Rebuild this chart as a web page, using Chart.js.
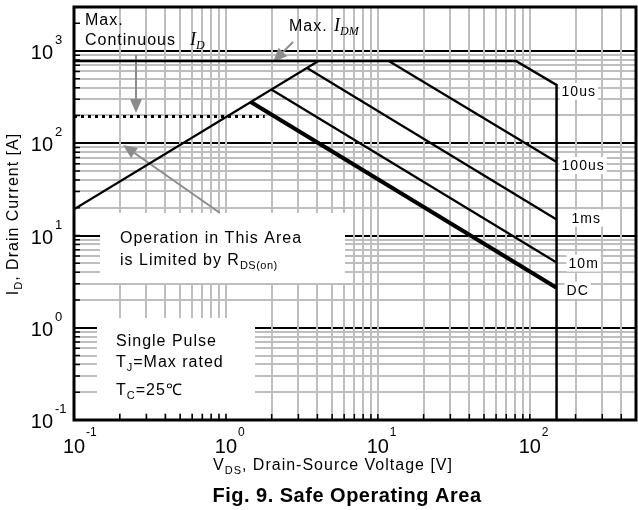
<!DOCTYPE html>
<html>
<head>
<meta charset="utf-8">
<script src="https://cdn.jsdelivr.net/npm/chart.js@4.4.1/dist/chart.umd.min.js"></script>
<style>
  html, body { margin: 0; padding: 0; background: #fff; }
  #soa { display: block; }
</style>
</head>
<body>
<canvas id="soa" width="638" height="510"></canvas>
<script>
// Fig. 9 - safe operating area, log-log

const xDecades = [-1, 0, 1, 2];      // labelled V_DS ticks, 10^n
const yDecades = [-1, 0, 1, 2, 3];   // labelled I_D ticks, 10^n
const xMin = 0.1, xMax = 500;
const yMin = 0.1, yMax = 3000;

// limit lines: V_DS [V] / I_D [A]
const rdsV = [0.1, 4.06];            const rdsI = [19.2, 780];
const us10V = [0.1, 81, 150, 150];   const us10I = [780, 780, 428, 0.1];
const us100V = [11.8, 150];          const us100I = [780, 62.6];
const ms1V = [3.42, 150];            const ms1I = [655, 14.9];
const ms10V = [1.99, 150];           const ms10I = [383, 5.09];
const dcV = [1.458, 150];            const dcI = [280, 2.72];
const contV = [0.1, 1.8];            const contI = [195, 195];

const curveNames = ['10us', '100us', '1ms', '10m', 'DC'];
const curveEndI = [428, 62.6, 14.9, 5.09, 2.72];

const SANS = '"Liberation Sans", Arial, sans-serif';
const SERIF = '"Liberation Serif", "Times New Roman", serif';
const GRID = '#bebebe';
const ARROW = '#8c8c8c';

function pts(xs, ys) {
  return xs.map((x, i) => ({ x: x, y: ys[i] }));
}

function gridValues(min, max) {
  const out = [];
  for (let e = Math.floor(Math.log10(min)); e <= Math.ceil(Math.log10(max)); e++) {
    for (let m = 1; m <= 9; m++) {
      const v = +(m * Math.pow(10, e)).toPrecision(6);
      if (v >= min && v <= max) out.push(v);
    }
  }
  return out;
}

function isDecade(v) {
  const l = Math.log10(v);
  return Math.abs(l - Math.round(l)) < 1e-6;
}

function fontOf(p) {
  return (p.italic ? 'italic ' : '') + (p.bold ? 'bold ' : '') + p.size + 'px ' + (p.serif ? SERIF : SANS);
}

// draws a run of text parts (for sub/superscripts) on one baseline
function rich(ctx, x, y, parts, align) {
  const widths = parts.map(p => {
    ctx.font = fontOf(p);
    ctx.letterSpacing = p.ls || '0px';
    return ctx.measureText(p.t).width;
  });
  const total = widths.reduce((a, b) => a + b, 0);
  let cx = align === 'center' ? x - total / 2 : align === 'right' ? x - total : x;
  ctx.textAlign = 'left';
  ctx.textBaseline = 'alphabetic';
  parts.forEach((p, i) => {
    ctx.font = fontOf(p);
    ctx.letterSpacing = p.ls || '0px';
    ctx.fillStyle = p.color || '#000';
    ctx.fillText(p.t, cx, y + (p.dy || 0));
    cx += widths[i];
  });
  ctx.letterSpacing = '0px';
}

function txt(t, size, extra) {
  return Object.assign({ t: t, size: size, ls: '1px' }, extra || {});
}

function arrow(ctx, x1, y1, x2, y2) {
  const a = Math.atan2(y2 - y1, x2 - x1);
  const L = 14, W = 6;
  const bx = x2 - L * Math.cos(a), by = y2 - L * Math.sin(a);
  ctx.save();
  ctx.strokeStyle = ARROW;
  ctx.fillStyle = ARROW;
  ctx.lineWidth = 2;
  ctx.beginPath();
  ctx.moveTo(x1, y1);
  ctx.lineTo(bx, by);
  ctx.stroke();
  ctx.beginPath();
  ctx.moveTo(x2, y2);
  ctx.lineTo(bx + W * Math.sin(a), by - W * Math.cos(a));
  ctx.lineTo(bx - W * Math.sin(a), by + W * Math.cos(a));
  ctx.closePath();
  ctx.fill();
  ctx.restore();
}

function whiteBox(ctx, x1, y1, x2, y2) {
  ctx.fillStyle = '#fff';
  ctx.fillRect(x1, y1, x2 - x1, y2 - y1);
}

const notes = {
  id: 'notes',
  beforeDatasetsDraw(chart) {
    const ctx = chart.ctx;
    const xs = chart.scales.x, ys = chart.scales.y;
    ctx.save();

    whiteBox(ctx, 100, 213, 345, 283);
    whiteBox(ctx, 97, 318, 255, 413);

    rich(ctx, 85, 25, [txt('Max.', 16)]);
    rich(ctx, 85, 45, [txt('Continuous', 16)]);
    rich(ctx, 190, 45, [
      { t: 'I', size: 18, italic: true, serif: true },
      { t: 'D', size: 12, italic: true, serif: true, dy: 4 }
    ]);
    rich(ctx, 289, 31, [txt('Max.', 16)]);
    rich(ctx, 334, 31, [
      { t: 'I', size: 18, italic: true, serif: true },
      { t: 'DM', size: 12, italic: true, serif: true, dy: 4 }
    ]);

    rich(ctx, 120, 243, [txt('Operation in This Area', 16)]);
    rich(ctx, 120, 265, [txt('is Limited by R', 16), txt('DS(on)', 11, { dy: 4, ls: '0.5px' })]);

    rich(ctx, 116, 346, [txt('Single Pulse', 16)]);
    rich(ctx, 116, 367, [txt('T', 16), txt('J', 11, { dy: 4 }), txt('=Max rated', 16)]);
    rich(ctx, 116, 395, [txt('T', 16), txt('C', 11, { dy: 4 }), txt('=25\u2103', 16)]);

    arrow(ctx, 136, 55, 136, 113);
    arrow(ctx, 293, 42, 273, 62);
    arrow(ctx, 220, 213, 123, 145);

    // curve labels right of the V_DSS line
    const lx = xs.getPixelForValue(150);
    const offs = [[5, 11], [5, 8], [15, 3], [12, 5], [10, 7]];
    curveNames.forEach((name, i) => {
      const y = ys.getPixelForValue(curveEndI[i]) + offs[i][1];
      const x = lx + offs[i][0];
      ctx.font = '14px ' + SANS;
      ctx.letterSpacing = '1px';
      const w = ctx.measureText(name).width;
      ctx.letterSpacing = '0px';
      whiteBox(ctx, x - 2, y - 13, x + w + 2, y + 4);
      rich(ctx, x, y, [txt(name, 14)]);
    });
    ctx.restore();
  },
  afterDatasetsDraw(chart) {
    const ctx = chart.ctx;
    const a = chart.chartArea;
    const xs = chart.scales.x, ys = chart.scales.y;
    ctx.save();

    // small inside tick marks
    ctx.strokeStyle = '#000';
    ctx.lineWidth = 1.5;
    ctx.beginPath();
    ys.ticks.forEach(t => {
      const y = ys.getPixelForValue(t.value);
      ctx.moveTo(a.left, y);
      ctx.lineTo(a.left + 6, y);
    });
    xs.ticks.forEach(t => {
      const x = xs.getPixelForValue(t.value);
      ctx.moveTo(x, a.bottom);
      ctx.lineTo(x, a.bottom - 6);
    });
    ctx.stroke();

    // frame
    ctx.lineWidth = 3;
    ctx.strokeRect(a.left, a.top, a.right - a.left, a.bottom - a.top);

    // decade labels
    yDecades.forEach(e => {
      const y = ys.getPixelForValue(Math.pow(10, e));
      rich(ctx, 53, y + 8, [{ t: '10', size: 20 }], 'right');
      rich(ctx, 55, y - 7, [{ t: String(e), size: 13 }]);
    });
    xDecades.forEach(e => {
      const x = xs.getPixelForValue(Math.pow(10, e));
      rich(ctx, x, 453, [{ t: '10', size: 20 }], 'center');
      rich(ctx, x + 12, 436, [{ t: String(e), size: 12 }]);
    });

    // axis titles and caption
    rich(ctx, 333, 470, [txt('V', 16), txt('DS', 11, { dy: 4 }), txt(', Drain-Source Voltage [V]', 16)], 'center');
    rich(ctx, 347, 502, [{ t: 'Fig. 9. Safe Operating Area', size: 20, bold: true, ls: '0.5px' }], 'center');

    ctx.translate(18, 214);
    ctx.rotate(-Math.PI / 2);
    rich(ctx, 0, 0, [txt('I', 16), txt('D', 11, { dy: 4 }), txt(', Drain Current [A]', 16)], 'center');
    ctx.restore();
  }
};

function line(data, width, dash) {
  return {
    data: data,
    borderColor: '#000',
    borderWidth: width,
    borderDash: dash || [],
    pointRadius: 0,
    fill: false,
    tension: 0
  };
}

new Chart(document.getElementById('soa'), {
  type: 'line',
  data: {
    datasets: [
      line(pts(rdsV, rdsI), 2.2),
      line(pts(us10V, us10I), 2.5),
      line(pts(us100V, us100I), 2.2),
      line(pts(ms1V, ms1I), 2.2),
      line(pts(ms10V, ms10I), 2.2),
      line(pts(dcV, dcI), 4),
      line(pts(contV, contI), 3, [3, 4])
    ]
  },
  options: {
    responsive: false,
    animation: false,
    devicePixelRatio: 1,
    layout: { padding: { left: 74, top: 7, right: 2, bottom: 90 } },
    scales: {
      y: {
        type: 'logarithmic',
        min: yMin,
        max: yMax,
        afterBuildTicks: s => { s.ticks = gridValues(yMin, yMax).map(v => ({ value: v })); },
        ticks: { display: false },
        border: { display: false },
        grid: {
          drawTicks: false,
          lineWidth: 2,
          color: c => {
            const v = c.tick.value;
            if (v > 1000) return 'rgba(0,0,0,0)';
            return isDecade(v) ? '#000' : GRID;
          }
        }
      },
      x: {
        type: 'logarithmic',
        min: xMin,
        max: xMax,
        afterBuildTicks: s => { s.ticks = gridValues(xMin, xMax).map(v => ({ value: v })); },
        ticks: { display: false },
        border: { display: false },
        grid: { drawTicks: false, lineWidth: 2, color: GRID }
      }
    },
    plugins: {
      legend: { display: false },
      tooltip: { enabled: false }
    }
  },
  plugins: [notes]
});
</script>
</body>
</html>
